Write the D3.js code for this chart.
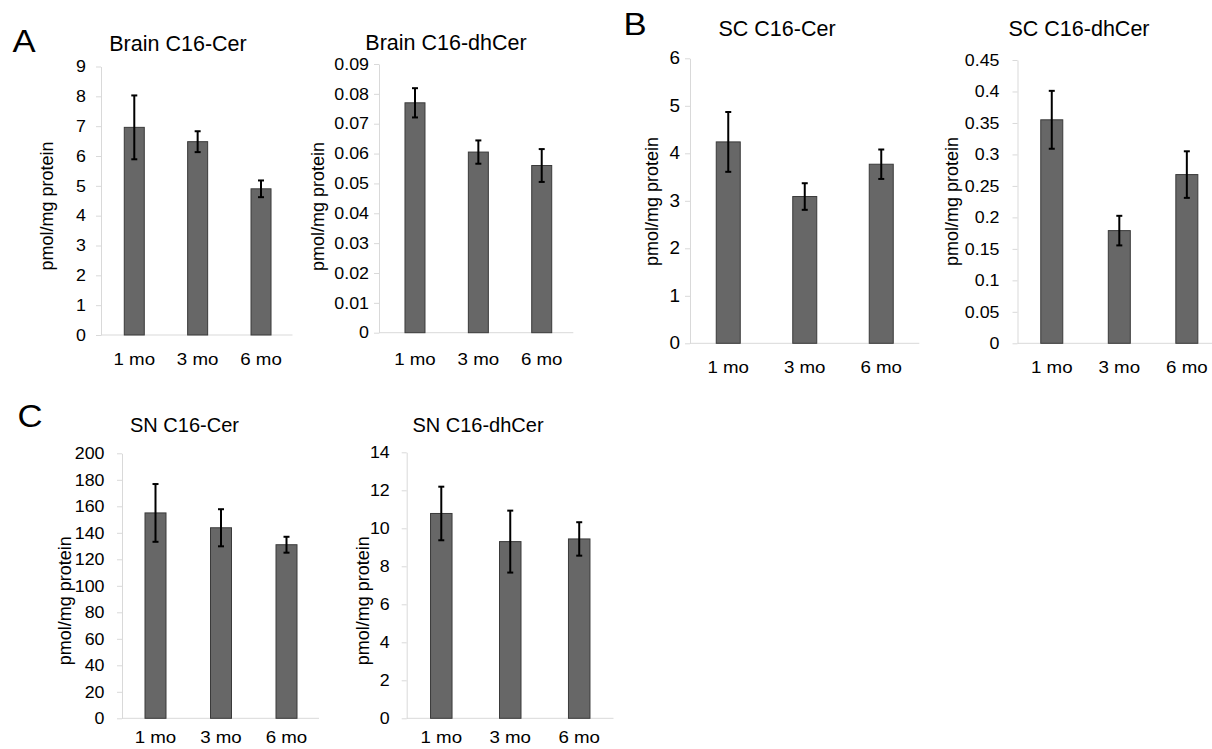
<!DOCTYPE html>
<html>
<head>
<meta charset="utf-8">
<script src="https://cdn.jsdelivr.net/npm/d3@7"></script>
<style>
    body { margin: 0; background: #fff; }
    svg { display: block; font-family: 'Liberation Sans', Arial, Helvetica, sans-serif; }
</style>
</head>
<body>
<script>
// data (mean and error bar half-length)
const AGES = ['1 mo', '3 mo', '6 mo'];

const BRAIN_CER = [6.96, 6.48, 4.90];
const BRAIN_CER_ERR = [1.07, 0.35, 0.28];
const BRAIN_CER_TICKS = [0, 1, 2, 3, 4, 5, 6, 7, 8, 9];

const BRAIN_DHCER = [0.077, 0.0605, 0.056];
const BRAIN_DHCER_ERR = [0.0049, 0.0039, 0.0055];
const BRAIN_DHCER_TICKS = [0, 0.01, 0.02, 0.03, 0.04, 0.05, 0.06, 0.07, 0.08, 0.09];

const SC_CER = [4.24, 3.09, 3.77];
const SC_CER_ERR = [0.63, 0.28, 0.31];
const SC_CER_TICKS = [0, 1, 2, 3, 4, 5, 6];

const SC_DHCER = [0.355, 0.179, 0.268];
const SC_DHCER_ERR = [0.046, 0.0235, 0.037];
const SC_DHCER_TICKS = [0, 0.05, 0.1, 0.15, 0.2, 0.25, 0.3, 0.35, 0.4, 0.45];

const SN_CER = [155, 143.8, 131];
const SN_CER_ERR = [21.8, 14, 6];
const SN_CER_TICKS = [0, 20, 40, 60, 80, 100, 120, 140, 160, 180, 200];

const SN_DHCER = [10.78, 9.3, 9.44];
const SN_DHCER_ERR = [1.41, 1.63, 0.88];
const SN_DHCER_TICKS = [0, 2, 4, 6, 8, 10, 12, 14];

const Y_LABEL = 'pmol/mg protein';

const SVG_DIM = {W: 1212, H: 749};
const AXIS_COLOR = '#d9d9d9';
const BAR_FILL = '#676767';
const BAR_STROKE = '#3a3a3a';
const TICK_STRETCH = 1.08;
const XLAB_STRETCH = 1.1;

// layout of each small chart
const PANELS = [
    {title: 'Brain C16-Cer', values: BRAIN_CER, errors: BRAIN_CER_ERR, ticks: BRAIN_CER_TICKS,
     axisX: 101, band: [102.6, 292.7], axisEnd: 292.5, yTop: 66.5, yBottom: 335, barW: 20,
     tickGap: 15, tickSize: 16.5, labelX: 47, labelY: 206, titleX: 178, titleY: 51, titleSize: 21.5, xLabelY: 365},
    {title: 'Brain C16-dhCer', values: BRAIN_DHCER, errors: BRAIN_DHCER_ERR, ticks: BRAIN_DHCER_TICKS,
     axisX: 379, band: [383.3, 573.4], axisEnd: 573.3, yTop: 64, yBottom: 332.7, barW: 20,
     tickGap: 10, tickSize: 16.5, labelX: 318, labelY: 206.5, titleX: 446, titleY: 50, titleSize: 21.5, xLabelY: 365},
    {title: 'SC C16-Cer', values: SC_CER, errors: SC_CER_ERR, ticks: SC_CER_TICKS,
     axisX: 690, band: [690, 919.5], axisEnd: 919.3, yTop: 58.3, yBottom: 343.3, barW: 24,
     tickGap: 10, tickSize: 17.5, labelX: 652, labelY: 201.5, titleX: 777, titleY: 36, titleSize: 21.5, xLabelY: 373},
    {title: 'SC C16-dhCer', values: SC_DHCER, errors: SC_DHCER_ERR, ticks: SC_DHCER_TICKS,
     axisX: 1017.5, band: [1018, 1220.6], axisEnd: 1212, yTop: 60, yBottom: 343.3, barW: 22,
     tickGap: 18, tickSize: 16.5, labelX: 952, labelY: 201.5, titleX: 1079, titleY: 36, titleSize: 21.5, xLabelY: 373},
    {title: 'SN C16-Cer', values: SN_CER, errors: SN_CER_ERR, ticks: SN_CER_TICKS,
     axisX: 122, band: [122.75, 319.25], axisEnd: 319, yTop: 453.3, yBottom: 718.3, barW: 21,
     tickGap: 17.5, tickSize: 16.5, labelX: 65, labelY: 600.8, titleX: 184.5, titleY: 432, titleSize: 20, xLabelY: 743},
    {title: 'SN C16-dhCer', values: SN_DHCER, errors: SN_DHCER_ERR, ticks: SN_DHCER_TICKS,
     axisX: 406.7, band: [406.8, 613.7], axisEnd: 613.5, yTop: 452.3, yBottom: 718.3, barW: 21.5,
     tickGap: 17, tickSize: 16.5, labelX: 363, labelY: 600.8, titleX: 478, titleY: 432, titleSize: 20, xLabelY: 743}
];

const LETTERS = [
    {text: 'A', x: 24, y: 51.7},
    {text: 'B', x: 635, y: 35},
    {text: 'C', x: 30, y: 427}
];

const svg = d3.select('body').append('svg')
    .attr('width', SVG_DIM.W)
    .attr('height', SVG_DIM.H);

// Excel "General" style numbers: 0, 0.05, 0.1 ...
const fmt = d => String(+d.toFixed(4));

PANELS.forEach(p => {
    const g = svg.append('g').attr('class', 'panel');

    const x = d3.scaleBand()
        .domain(AGES)
        .range(p.band);

    const y = d3.scaleLinear()
        .domain([0, p.ticks[p.ticks.length - 1]])
        .range([p.yBottom, p.yTop]);

    // y axis
    const yAxis = d3.axisLeft(y)
        .tickValues(p.ticks)
        .tickFormat(fmt)
        .tickSize(5)
        .tickSizeOuter(0);

    const ya = g.append('g')
        .attr('transform', 'translate(' + p.axisX + ',0)')
        .call(yAxis);
    ya.attr('font-family', null).attr('font-size', null);

    ya.select('.domain').attr('stroke', AXIS_COLOR);
    ya.selectAll('.tick line').attr('stroke', AXIS_COLOR);
    ya.selectAll('.tick text')
        .attr('font-size', p.tickSize)
        .attr('fill', '#000')
        .attr('x', -p.tickGap / TICK_STRETCH)
        .attr('transform', 'scale(' + TICK_STRETCH + ',1)');

    // baseline
    g.append('line')
        .attr('x1', p.axisX)
        .attr('x2', p.axisEnd)
        .attr('y1', y(0))
        .attr('y2', y(0))
        .attr('stroke', AXIS_COLOR);

    const cx = d => x(d) + x.bandwidth() / 2;

    // bars
    g.selectAll('rect')
        .data(AGES)
        .enter()
        .append('rect')
        .attr('x', d => cx(d) - p.barW / 2)
        .attr('y', (d, i) => y(p.values[i]))
        .attr('width', p.barW)
        .attr('height', (d, i) => y(0) - y(p.values[i]))
        .attr('fill', BAR_FILL)
        .attr('stroke', BAR_STROKE)
        .attr('stroke-width', 1);

    // error bars
    const err = g.selectAll('.err')
        .data(AGES)
        .enter()
        .append('g')
        .attr('class', 'err')
        .attr('stroke', '#000')
        .attr('stroke-width', 2);

    err.append('line')
        .attr('x1', d => cx(d))
        .attr('x2', d => cx(d))
        .attr('y1', (d, i) => y(p.values[i] - p.errors[i]))
        .attr('y2', (d, i) => y(p.values[i] + p.errors[i]));
    err.append('line')
        .attr('x1', d => cx(d) - 3)
        .attr('x2', d => cx(d) + 3)
        .attr('y1', (d, i) => y(p.values[i] + p.errors[i]))
        .attr('y2', (d, i) => y(p.values[i] + p.errors[i]));
    err.append('line')
        .attr('x1', d => cx(d) - 3)
        .attr('x2', d => cx(d) + 3)
        .attr('y1', (d, i) => y(p.values[i] - p.errors[i]))
        .attr('y2', (d, i) => y(p.values[i] - p.errors[i]));

    // category labels
    g.selectAll('.xlab')
        .data(AGES)
        .enter()
        .append('text')
        .attr('class', 'xlab')
        .attr('transform', d => 'translate(' + cx(d) + ',' + p.xLabelY + ') scale(' + XLAB_STRETCH + ',1)')
        .attr('text-anchor', 'middle')
        .attr('font-size', 17)
        .text(d => d);

    // title
    g.append('text')
        .attr('x', p.titleX)
        .attr('y', p.titleY)
        .attr('text-anchor', 'middle')
        .attr('font-size', p.titleSize)
        .text(p.title);

    // y label
    g.append('text')
        .attr('transform', 'translate(' + p.labelX + ',' + p.labelY + ') rotate(-90)')
        .attr('text-anchor', 'middle')
        .attr('dy', '0.35em')
        .attr('font-size', 18)
        .text(Y_LABEL);
});

// panel letters
svg.selectAll('.letter')
    .data(LETTERS)
    .enter()
    .append('text')
    .attr('class', 'letter')
    .attr('transform', d => 'translate(' + d.x + ',' + d.y + ') scale(1.12,1)')
    .attr('text-anchor', 'middle')
    .attr('font-size', 31)
    .text(d => d.text);
</script>
</body>
</html>
